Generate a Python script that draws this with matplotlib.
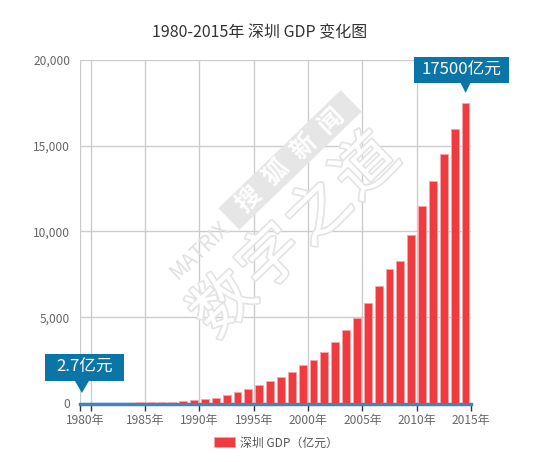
import matplotlib
matplotlib.use('Agg')
import matplotlib.pyplot as plt
import matplotlib.patheffects as pe
import matplotlib.transforms as mtransforms
from matplotlib.patches import Polygon, Rectangle
from matplotlib.ticker import FuncFormatter
import numpy as np

plt.rcParams['font.family'] = ['Noto Sans CJK SC', 'DejaVu Sans']

# 深圳 GDP (亿元), 1980-2015
years = list(range(1980, 2016))
gdp = [2.7, 4.96, 8.26, 13.12, 23.42, 39.02, 41.65, 55.9, 86.98, 115.66,
       171.67, 236.66, 317.32, 453.14, 634.67, 842.48, 1048.44, 1297.42, 1534.73, 1804.02,
       2187.45, 2482.49, 2969.52, 3585.72, 4282.14, 4950.91, 5813.56, 6801.57, 7786.79, 8300.0,
       9773.31, 11505.53, 12950.06, 14500.23, 16001.82, 17500.0]
label_years = list(range(1985, 2016, 5))
y_ticks = [0, 5000, 10000, 15000, 20000]
series_name = '深圳 GDP（亿元）'
title = '1980-2015年 深圳 GDP 变化图'

W, H = 550, 462
bar_color = '#EF3B3F'
box_color = '#0B75A8'
px = mtransforms.IdentityTransform()

fig = plt.figure(figsize=(W / 100, H / 100), dpi=100)
ax = fig.add_axes([80 / W, (H - 403) / H, (471 - 80) / W, (403 - 60) / H])

xpos = [y - 0.5 for y in years]
bars = ax.bar(xpos, gdp, width=0.72, color=bar_color, edgecolor='#F7A5A7',
              linewidth=0.7, zorder=3, label=series_name)

ax.set_xlim(1979, 2015)
ax.set_ylim(0, 20000)
ax.set_yticks(y_ticks)
ax.yaxis.set_major_formatter(FuncFormatter(lambda v, p: f'{int(v):,}'))

major = [1979, 1980] + label_years
ax.set_xticks(major)
ax.set_xticklabels(['', ''] + [f'{y}年' for y in label_years])
ax.set_xticks([years[0] - 0.5], minor=True)
ax.set_xticklabels([f'{years[0]}年'], minor=True)

ax.grid(True, which='major', color='#cccccc', linewidth=1, zorder=0)
for s in ['top', 'right', 'left']:
    ax.spines[s].set_visible(False)
ax.spines['bottom'].set_color('#3E86C3')
ax.spines['bottom'].set_linewidth(2.5)
ax.spines['bottom'].set_zorder(2)
ax.spines['bottom'].set_position(('outward', 1))
ax.tick_params(axis='y', length=0, pad=7, labelsize=8.6, labelcolor='#666666')
ax.tick_params(axis='x', which='major', length=5, width=1, color='#333333',
               pad=2, labelsize=8.6, labelcolor='#666666')
ax.tick_params(axis='x', which='minor', length=0, pad=7, labelsize=8.6, labelcolor='#666666')

# title
fig.text(260, H - 33, title, transform=px, ha='center', va='center',
         fontsize=11.5, color='#333333')

# legend
fig.legend(handles=[bars], labels=[series_name], loc='center',
           bbox_to_anchor=(276 / W, (H - 443) / H), frameon=False,
           fontsize=8.6, labelcolor='#555555', handlelength=1.7, handleheight=0.9,
           handletextpad=0.4)


# callouts
def callout(xv, yv, text, box_w, box_h, dx, box_dx, gap, tri_h, tri_half):
    bx, by = ax.transData.transform((xv, yv))
    tip = (bx + dx, by + gap)
    base = by + gap + tri_h
    fig.add_artist(Polygon([tip, (tip[0] - tri_half, base), (tip[0] + tri_half, base)],
                           closed=True, fc=box_color, ec='none', transform=px))
    cx = tip[0] + box_dx
    fig.add_artist(Rectangle((cx - box_w / 2, base), box_w, box_h,
                             fc=box_color, ec='none', transform=px))
    fig.text(cx, base + box_h / 2, text, transform=px, ha='center', va='center',
             fontsize=12, color='white')


callout(xpos[-1], gdp[-1], f'{int(gdp[-1])}亿元', 95, 26, 0, -4.5, 10, 10, 5)
callout(xpos[0], gdp[0], f'{gdp[0]}亿元', 79, 27, -3.5, 2.5, 10, 12, 7)

# watermark
wm = dict(rotation=44, ha='center', va='center', rotation_mode='anchor', transform=px)
ang = np.deg2rad(44)
d = np.array([np.cos(ang), np.sin(ang)])
n = np.array([-np.sin(ang), np.cos(ang)])
fig.text(200, H - 250, 'MATRIX', fontsize=15, color='#e0e0e0', zorder=5, **wm)
c0 = np.array([290, H - 160])
L, T = 170, 30
corners = [c0 - d * L / 2 - n * T / 2, c0 + d * L / 2 - n * T / 2,
           c0 + d * L / 2 + n * T / 2, c0 - d * L / 2 + n * T / 2]
fig.add_artist(Polygon(corners, closed=True, fc='#e6e6e6', ec='none', transform=px))
for k, ch in enumerate('搜狐新闻'):
    p = c0 + d * (k - 1.5) * 38
    fig.text(p[0], p[1], ch, fontsize=18, color='white', fontweight='bold', **wm)
c1 = np.array([296, H - 236])
for k, ch in enumerate('数字之道'):
    p = c1 + d * (k - 1.5) * 66
    fig.text(p[0], p[1], ch, fontsize=45, color='white',
             path_effects=[pe.Stroke(linewidth=2.5, foreground='#e4e4e4'), pe.Normal()], **wm)

fig.savefig('out.png', dpi=100)
